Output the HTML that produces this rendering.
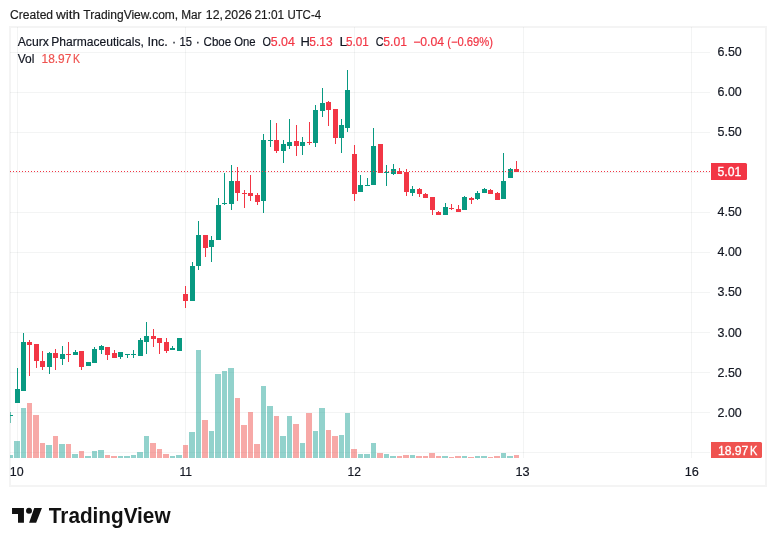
<!DOCTYPE html>
<html lang="en"><head><meta charset="utf-8"><title>Acurx Pharmaceuticals, Inc. chart</title>
<style>
html,body{margin:0;padding:0;background:#fff;}
body{width:776px;height:546px;position:relative;overflow:hidden;font-family:"Liberation Sans",Arial,sans-serif;}
</style></head><body>
<svg width="776" height="546" viewBox="0 0 776 546" style="position:absolute;left:0;top:0;display:block">
<rect x="0" y="0" width="776" height="546" fill="#ffffff"/>
<g shape-rendering="crispEdges">
<rect x="10" y="27" width="756" height="459" fill="none" stroke="#f4f4f4" stroke-width="2"/>
<rect x="10" y="52" width="700" height="1" fill="rgba(42,46,57,0.055)"/>
<rect x="10" y="92" width="700" height="1" fill="rgba(42,46,57,0.055)"/>
<rect x="10" y="132" width="700" height="1" fill="rgba(42,46,57,0.055)"/>
<rect x="10" y="172" width="700" height="1" fill="rgba(42,46,57,0.055)"/>
<rect x="10" y="212" width="700" height="1" fill="rgba(42,46,57,0.055)"/>
<rect x="10" y="252" width="700" height="1" fill="rgba(42,46,57,0.055)"/>
<rect x="10" y="292" width="700" height="1" fill="rgba(42,46,57,0.055)"/>
<rect x="10" y="332" width="700" height="1" fill="rgba(42,46,57,0.055)"/>
<rect x="10" y="372" width="700" height="1" fill="rgba(42,46,57,0.055)"/>
<rect x="10" y="412" width="700" height="1" fill="rgba(42,46,57,0.055)"/>
<rect x="10" y="452" width="700" height="1" fill="rgba(42,46,57,0.055)"/>
<rect x="17" y="27" width="1" height="431" fill="rgba(42,46,57,0.055)"/>
<rect x="185" y="27" width="1" height="431" fill="rgba(42,46,57,0.055)"/>
<rect x="354" y="27" width="1" height="431" fill="rgba(42,46,57,0.055)"/>
<rect x="523" y="27" width="1" height="431" fill="rgba(42,46,57,0.055)"/>
<rect x="691" y="27" width="1" height="431" fill="rgba(42,46,57,0.055)"/>
<rect x="10" y="455" width="3" height="3" fill="rgba(38,166,154,0.5)"/>
<rect x="14" y="441" width="6" height="17" fill="rgba(38,166,154,0.5)"/>
<rect x="21" y="408" width="5" height="50" fill="rgba(38,166,154,0.5)"/>
<rect x="27" y="403" width="5" height="55" fill="rgba(239,83,80,0.5)"/>
<rect x="33" y="415" width="6" height="43" fill="rgba(239,83,80,0.5)"/>
<rect x="40" y="443" width="5" height="15" fill="rgba(239,83,80,0.5)"/>
<rect x="46" y="445" width="6" height="13" fill="rgba(38,166,154,0.5)"/>
<rect x="53" y="436" width="5" height="22" fill="rgba(239,83,80,0.5)"/>
<rect x="59" y="444" width="6" height="14" fill="rgba(38,166,154,0.5)"/>
<rect x="66" y="444" width="5" height="14" fill="rgba(239,83,80,0.5)"/>
<rect x="72" y="454" width="6" height="4" fill="rgba(38,166,154,0.5)"/>
<rect x="79" y="451" width="5" height="7" fill="rgba(239,83,80,0.5)"/>
<rect x="85" y="456" width="6" height="2" fill="rgba(38,166,154,0.5)"/>
<rect x="92" y="451" width="5" height="7" fill="rgba(38,166,154,0.5)"/>
<rect x="98" y="450" width="6" height="8" fill="rgba(38,166,154,0.5)"/>
<rect x="105" y="455" width="5" height="3" fill="rgba(239,83,80,0.5)"/>
<rect x="111" y="456" width="6" height="2" fill="rgba(239,83,80,0.5)"/>
<rect x="118" y="456" width="5" height="2" fill="rgba(38,166,154,0.5)"/>
<rect x="124" y="456" width="6" height="2" fill="rgba(38,166,154,0.5)"/>
<rect x="131" y="455" width="5" height="3" fill="rgba(38,166,154,0.5)"/>
<rect x="137" y="452" width="6" height="6" fill="rgba(38,166,154,0.5)"/>
<rect x="144" y="436" width="5" height="22" fill="rgba(38,166,154,0.5)"/>
<rect x="150" y="443" width="6" height="15" fill="rgba(239,83,80,0.5)"/>
<rect x="157" y="449" width="5" height="9" fill="rgba(239,83,80,0.5)"/>
<rect x="163" y="454" width="6" height="4" fill="rgba(239,83,80,0.5)"/>
<rect x="170" y="456" width="5" height="2" fill="rgba(38,166,154,0.5)"/>
<rect x="176" y="455" width="6" height="3" fill="rgba(38,166,154,0.5)"/>
<rect x="183" y="445" width="5" height="13" fill="rgba(239,83,80,0.5)"/>
<rect x="189" y="432" width="6" height="26" fill="rgba(38,166,154,0.5)"/>
<rect x="196" y="350" width="5" height="108" fill="rgba(38,166,154,0.5)"/>
<rect x="202" y="420" width="6" height="38" fill="rgba(239,83,80,0.5)"/>
<rect x="209" y="431" width="5" height="27" fill="rgba(38,166,154,0.5)"/>
<rect x="215" y="374" width="6" height="84" fill="rgba(38,166,154,0.5)"/>
<rect x="222" y="371" width="5" height="87" fill="rgba(38,166,154,0.5)"/>
<rect x="228" y="368" width="6" height="90" fill="rgba(38,166,154,0.5)"/>
<rect x="235" y="398" width="5" height="60" fill="rgba(239,83,80,0.5)"/>
<rect x="241" y="425" width="6" height="33" fill="rgba(239,83,80,0.5)"/>
<rect x="248" y="412" width="5" height="46" fill="rgba(239,83,80,0.5)"/>
<rect x="254" y="444" width="6" height="14" fill="rgba(239,83,80,0.5)"/>
<rect x="261" y="386" width="5" height="72" fill="rgba(38,166,154,0.5)"/>
<rect x="267" y="406" width="6" height="52" fill="rgba(38,166,154,0.5)"/>
<rect x="274" y="416" width="5" height="42" fill="rgba(239,83,80,0.5)"/>
<rect x="280" y="436" width="6" height="22" fill="rgba(38,166,154,0.5)"/>
<rect x="287" y="416" width="5" height="42" fill="rgba(38,166,154,0.5)"/>
<rect x="293" y="424" width="6" height="34" fill="rgba(239,83,80,0.5)"/>
<rect x="300" y="443" width="5" height="15" fill="rgba(38,166,154,0.5)"/>
<rect x="306" y="413" width="6" height="45" fill="rgba(239,83,80,0.5)"/>
<rect x="313" y="431" width="5" height="27" fill="rgba(38,166,154,0.5)"/>
<rect x="319" y="408" width="6" height="50" fill="rgba(38,166,154,0.5)"/>
<rect x="326" y="430" width="5" height="28" fill="rgba(239,83,80,0.5)"/>
<rect x="332" y="436" width="6" height="22" fill="rgba(239,83,80,0.5)"/>
<rect x="339" y="435" width="5" height="23" fill="rgba(38,166,154,0.5)"/>
<rect x="345" y="413" width="5" height="45" fill="rgba(38,166,154,0.5)"/>
<rect x="351" y="449" width="6" height="9" fill="rgba(239,83,80,0.5)"/>
<rect x="358" y="454" width="5" height="4" fill="rgba(38,166,154,0.5)"/>
<rect x="364" y="454" width="6" height="4" fill="rgba(38,166,154,0.5)"/>
<rect x="371" y="443" width="5" height="15" fill="rgba(38,166,154,0.5)"/>
<rect x="377" y="453" width="6" height="5" fill="rgba(239,83,80,0.5)"/>
<rect x="384" y="454" width="5" height="4" fill="rgba(38,166,154,0.5)"/>
<rect x="390" y="456" width="6" height="2" fill="rgba(38,166,154,0.5)"/>
<rect x="397" y="456" width="5" height="2" fill="rgba(239,83,80,0.5)"/>
<rect x="403" y="455" width="6" height="3" fill="rgba(239,83,80,0.5)"/>
<rect x="410" y="455" width="5" height="3" fill="rgba(38,166,154,0.5)"/>
<rect x="416" y="456" width="6" height="2" fill="rgba(239,83,80,0.5)"/>
<rect x="423" y="456" width="5" height="2" fill="rgba(239,83,80,0.5)"/>
<rect x="429" y="453" width="6" height="5" fill="rgba(239,83,80,0.5)"/>
<rect x="436" y="456" width="5" height="2" fill="rgba(239,83,80,0.5)"/>
<rect x="442" y="456" width="6" height="2" fill="rgba(38,166,154,0.5)"/>
<rect x="449" y="457" width="5" height="1" fill="rgba(239,83,80,0.5)"/>
<rect x="455" y="456" width="6" height="2" fill="rgba(239,83,80,0.5)"/>
<rect x="462" y="456" width="5" height="2" fill="rgba(38,166,154,0.5)"/>
<rect x="468" y="457" width="6" height="1" fill="rgba(239,83,80,0.5)"/>
<rect x="475" y="456" width="5" height="2" fill="rgba(38,166,154,0.5)"/>
<rect x="481" y="456" width="6" height="2" fill="rgba(38,166,154,0.5)"/>
<rect x="488" y="457" width="5" height="1" fill="rgba(239,83,80,0.5)"/>
<rect x="494" y="456" width="6" height="2" fill="rgba(239,83,80,0.5)"/>
<rect x="501" y="453" width="5" height="5" fill="rgba(38,166,154,0.5)"/>
<rect x="507" y="456" width="6" height="2" fill="rgba(38,166,154,0.5)"/>
<rect x="514" y="455" width="5" height="3" fill="rgba(239,83,80,0.5)"/>
<rect x="10" y="412" width="1" height="11" fill="#089981" fill-opacity="0.55"/>
<rect x="10" y="415" width="3" height="1" fill="#089981"/>
<rect x="17" y="368" width="1" height="35" fill="#089981"/>
<rect x="15" y="389" width="5" height="14" fill="#089981"/>
<rect x="23" y="333" width="1" height="58" fill="#089981"/>
<rect x="21" y="342" width="5" height="49" fill="#089981"/>
<rect x="29" y="340" width="1" height="36" fill="#f23645"/>
<rect x="27" y="342" width="5" height="3" fill="#f23645"/>
<rect x="36" y="344" width="1" height="24" fill="#f23645"/>
<rect x="34" y="344" width="5" height="17" fill="#f23645"/>
<rect x="42" y="351" width="1" height="19" fill="#f23645"/>
<rect x="40" y="361" width="5" height="6" fill="#f23645"/>
<rect x="49" y="352" width="1" height="22" fill="#089981"/>
<rect x="47" y="353" width="5" height="14" fill="#089981"/>
<rect x="55" y="349" width="1" height="21" fill="#f23645"/>
<rect x="53" y="353" width="5" height="5" fill="#f23645"/>
<rect x="62" y="346" width="1" height="19" fill="#089981"/>
<rect x="60" y="354" width="5" height="5" fill="#089981"/>
<rect x="68" y="342" width="1" height="20" fill="#f23645"/>
<rect x="66" y="354" width="5" height="1" fill="#f23645"/>
<rect x="75" y="350" width="1" height="5" fill="#089981"/>
<rect x="73" y="352" width="5" height="3" fill="#089981"/>
<rect x="81" y="351" width="1" height="19" fill="#f23645"/>
<rect x="79" y="351" width="5" height="16" fill="#f23645"/>
<rect x="88" y="362" width="1" height="4" fill="#089981"/>
<rect x="86" y="362" width="5" height="4" fill="#089981"/>
<rect x="94" y="347" width="1" height="16" fill="#089981"/>
<rect x="92" y="349" width="5" height="14" fill="#089981"/>
<rect x="101" y="345" width="1" height="9" fill="#089981"/>
<rect x="99" y="346" width="5" height="4" fill="#089981"/>
<rect x="107" y="347" width="1" height="13" fill="#f23645"/>
<rect x="105" y="347" width="5" height="8" fill="#f23645"/>
<rect x="114" y="350" width="1" height="8" fill="#f23645"/>
<rect x="112" y="353" width="5" height="5" fill="#f23645"/>
<rect x="120" y="352" width="1" height="7" fill="#089981"/>
<rect x="118" y="352" width="5" height="5" fill="#089981"/>
<rect x="127" y="354" width="1" height="4" fill="#089981"/>
<rect x="125" y="354" width="5" height="1" fill="#089981"/>
<rect x="133" y="350" width="1" height="8" fill="#089981"/>
<rect x="131" y="354" width="5" height="1" fill="#089981"/>
<rect x="140" y="338" width="1" height="18" fill="#089981"/>
<rect x="138" y="340" width="5" height="16" fill="#089981"/>
<rect x="146" y="322" width="1" height="32" fill="#089981"/>
<rect x="144" y="336" width="5" height="6" fill="#089981"/>
<rect x="153" y="329" width="1" height="18" fill="#f23645"/>
<rect x="151" y="336" width="5" height="3" fill="#f23645"/>
<rect x="159" y="338" width="1" height="16" fill="#f23645"/>
<rect x="157" y="338" width="5" height="5" fill="#f23645"/>
<rect x="166" y="338" width="1" height="15" fill="#f23645"/>
<rect x="164" y="342" width="5" height="9" fill="#f23645"/>
<rect x="172" y="346" width="1" height="4" fill="#089981"/>
<rect x="170" y="348" width="5" height="2" fill="#089981"/>
<rect x="179" y="338" width="1" height="13" fill="#089981"/>
<rect x="177" y="338" width="5" height="13" fill="#089981"/>
<rect x="185" y="286" width="1" height="22" fill="#f23645"/>
<rect x="183" y="294" width="5" height="7" fill="#f23645"/>
<rect x="192" y="262" width="1" height="39" fill="#089981"/>
<rect x="190" y="266" width="5" height="35" fill="#089981"/>
<rect x="198" y="221" width="1" height="49" fill="#089981"/>
<rect x="196" y="235" width="5" height="31" fill="#089981"/>
<rect x="205" y="235" width="1" height="22" fill="#f23645"/>
<rect x="203" y="235" width="5" height="13" fill="#f23645"/>
<rect x="211" y="236" width="1" height="26" fill="#089981"/>
<rect x="209" y="240" width="5" height="7" fill="#089981"/>
<rect x="218" y="198" width="1" height="42" fill="#089981"/>
<rect x="216" y="205" width="5" height="35" fill="#089981"/>
<rect x="224" y="173" width="1" height="32" fill="#089981"/>
<rect x="222" y="203" width="5" height="1" fill="#089981"/>
<rect x="231" y="165" width="1" height="45" fill="#089981"/>
<rect x="229" y="181" width="5" height="23" fill="#089981"/>
<rect x="237" y="167" width="1" height="34" fill="#f23645"/>
<rect x="235" y="181" width="5" height="12" fill="#f23645"/>
<rect x="244" y="190" width="1" height="18" fill="#f23645"/>
<rect x="242" y="193" width="5" height="1" fill="#f23645"/>
<rect x="250" y="175" width="1" height="26" fill="#f23645"/>
<rect x="248" y="193" width="5" height="3" fill="#f23645"/>
<rect x="257" y="193" width="1" height="12" fill="#f23645"/>
<rect x="255" y="195" width="5" height="7" fill="#f23645"/>
<rect x="263" y="134" width="1" height="79" fill="#089981"/>
<rect x="261" y="140" width="5" height="61" fill="#089981"/>
<rect x="270" y="120" width="1" height="27" fill="#089981"/>
<rect x="268" y="140" width="5" height="1" fill="#089981"/>
<rect x="276" y="123" width="1" height="30" fill="#f23645"/>
<rect x="274" y="140" width="5" height="11" fill="#f23645"/>
<rect x="283" y="140" width="1" height="23" fill="#089981"/>
<rect x="281" y="144" width="5" height="7" fill="#089981"/>
<rect x="289" y="119" width="1" height="30" fill="#089981"/>
<rect x="287" y="142" width="5" height="4" fill="#089981"/>
<rect x="296" y="125" width="1" height="31" fill="#f23645"/>
<rect x="294" y="141" width="5" height="5" fill="#f23645"/>
<rect x="302" y="137" width="1" height="18" fill="#089981"/>
<rect x="300" y="142" width="5" height="4" fill="#089981"/>
<rect x="309" y="122" width="1" height="23" fill="#f23645"/>
<rect x="307" y="142" width="5" height="1" fill="#f23645"/>
<rect x="315" y="105" width="1" height="42" fill="#089981"/>
<rect x="313" y="110" width="5" height="33" fill="#089981"/>
<rect x="322" y="88" width="1" height="29" fill="#089981"/>
<rect x="320" y="103" width="5" height="8" fill="#089981"/>
<rect x="328" y="101" width="1" height="25" fill="#f23645"/>
<rect x="326" y="102" width="5" height="8" fill="#f23645"/>
<rect x="335" y="109" width="1" height="35" fill="#f23645"/>
<rect x="333" y="109" width="5" height="29" fill="#f23645"/>
<rect x="341" y="119" width="1" height="34" fill="#089981"/>
<rect x="339" y="125" width="5" height="13" fill="#089981"/>
<rect x="347" y="70" width="1" height="62" fill="#089981"/>
<rect x="345" y="90" width="5" height="38" fill="#089981"/>
<rect x="354" y="145" width="1" height="56" fill="#f23645"/>
<rect x="352" y="154" width="5" height="40" fill="#f23645"/>
<rect x="360" y="175" width="1" height="17" fill="#089981"/>
<rect x="358" y="185" width="5" height="7" fill="#089981"/>
<rect x="367" y="178" width="1" height="8" fill="#089981"/>
<rect x="365" y="185" width="5" height="1" fill="#089981"/>
<rect x="373" y="128" width="1" height="57" fill="#089981"/>
<rect x="371" y="146" width="5" height="39" fill="#089981"/>
<rect x="380" y="144" width="1" height="29" fill="#f23645"/>
<rect x="378" y="144" width="5" height="29" fill="#f23645"/>
<rect x="386" y="165" width="1" height="21" fill="#089981"/>
<rect x="384" y="172" width="5" height="1" fill="#089981"/>
<rect x="393" y="164" width="1" height="11" fill="#089981"/>
<rect x="391" y="169" width="5" height="5" fill="#089981"/>
<rect x="399" y="168" width="1" height="6" fill="#f23645"/>
<rect x="397" y="171" width="5" height="3" fill="#f23645"/>
<rect x="406" y="169" width="1" height="27" fill="#f23645"/>
<rect x="404" y="172" width="5" height="20" fill="#f23645"/>
<rect x="412" y="186" width="1" height="10" fill="#089981"/>
<rect x="410" y="189" width="5" height="4" fill="#089981"/>
<rect x="419" y="188" width="1" height="9" fill="#f23645"/>
<rect x="417" y="189" width="5" height="5" fill="#f23645"/>
<rect x="425" y="193" width="1" height="5" fill="#f23645"/>
<rect x="423" y="194" width="5" height="4" fill="#f23645"/>
<rect x="432" y="197" width="1" height="18" fill="#f23645"/>
<rect x="430" y="197" width="5" height="13" fill="#f23645"/>
<rect x="438" y="211" width="1" height="4" fill="#f23645"/>
<rect x="436" y="212" width="5" height="3" fill="#f23645"/>
<rect x="445" y="203" width="1" height="12" fill="#089981"/>
<rect x="443" y="207" width="5" height="8" fill="#089981"/>
<rect x="451" y="204" width="1" height="6" fill="#f23645"/>
<rect x="449" y="208" width="5" height="1" fill="#f23645"/>
<rect x="458" y="205" width="1" height="7" fill="#f23645"/>
<rect x="456" y="209" width="5" height="3" fill="#f23645"/>
<rect x="464" y="196" width="1" height="14" fill="#089981"/>
<rect x="462" y="197" width="5" height="13" fill="#089981"/>
<rect x="471" y="197" width="1" height="7" fill="#f23645"/>
<rect x="469" y="198" width="5" height="2" fill="#f23645"/>
<rect x="477" y="191" width="1" height="9" fill="#089981"/>
<rect x="475" y="193" width="5" height="6" fill="#089981"/>
<rect x="484" y="188" width="1" height="5" fill="#089981"/>
<rect x="482" y="189" width="5" height="4" fill="#089981"/>
<rect x="490" y="189" width="1" height="5" fill="#f23645"/>
<rect x="488" y="190" width="5" height="4" fill="#f23645"/>
<rect x="497" y="192" width="1" height="8" fill="#f23645"/>
<rect x="495" y="193" width="5" height="7" fill="#f23645"/>
<rect x="503" y="153" width="1" height="46" fill="#089981"/>
<rect x="501" y="181" width="5" height="18" fill="#089981"/>
<rect x="510" y="168" width="1" height="10" fill="#089981"/>
<rect x="508" y="169" width="5" height="9" fill="#089981"/>
<rect x="516" y="161" width="1" height="11" fill="#f23645"/>
<rect x="514" y="169" width="5" height="3" fill="#f23645"/>
<line x1="10" y1="171.5" x2="710" y2="171.5" stroke="#f23645" stroke-width="1" stroke-dasharray="1 2"/>
</g>
<path d="M711 163h34.5a1.5 1.5 0 0 1 1.5 1.5v14a1.5 1.5 0 0 1 -1.5 1.5h-34.5z" fill="#f23645"/>
<path d="M711 442h49.5a1.5 1.5 0 0 1 1.5 1.5v13a1.5 1.5 0 0 1 -1.5 1.5h-49.5z" fill="#ef5350"/>
<g font-family="'Liberation Sans', Arial, sans-serif" font-size="12" fill="#131722">
<text x="717.5" y="56" textLength="24.26" lengthAdjust="spacingAndGlyphs" stroke="#131722" stroke-width="0.18">6.50</text>
<text x="717.5" y="96" textLength="24.26" lengthAdjust="spacingAndGlyphs" stroke="#131722" stroke-width="0.18">6.00</text>
<text x="717.5" y="136" textLength="24.26" lengthAdjust="spacingAndGlyphs" stroke="#131722" stroke-width="0.18">5.50</text>
<text x="717.5" y="216" textLength="24.26" lengthAdjust="spacingAndGlyphs" stroke="#131722" stroke-width="0.18">4.50</text>
<text x="717.5" y="256" textLength="24.26" lengthAdjust="spacingAndGlyphs" stroke="#131722" stroke-width="0.18">4.00</text>
<text x="717.5" y="296" textLength="24.26" lengthAdjust="spacingAndGlyphs" stroke="#131722" stroke-width="0.18">3.50</text>
<text x="717.5" y="337" textLength="24.26" lengthAdjust="spacingAndGlyphs" stroke="#131722" stroke-width="0.18">3.00</text>
<text x="717.5" y="377" textLength="24.26" lengthAdjust="spacingAndGlyphs" stroke="#131722" stroke-width="0.18">2.50</text>
<text x="717.5" y="417" textLength="24.26" lengthAdjust="spacingAndGlyphs" stroke="#131722" stroke-width="0.18">2.00</text>
<text x="717.6" y="175.8" fill="#ffffff" stroke="#ffffff" stroke-width="0.3" textLength="23.7" lengthAdjust="spacingAndGlyphs">5.01</text>
<text x="717.9" y="454.7" fill="#ffffff" stroke="#ffffff" stroke-width="0.3"><tspan textLength="30.4" lengthAdjust="spacingAndGlyphs">18.97</tspan><tspan x="749.9" textLength="7.3" lengthAdjust="spacingAndGlyphs">K</tspan></text>
<text x="10.11" y="19" textLength="42.97" lengthAdjust="spacingAndGlyphs" fill="#1c1c1c" stroke="#1c1c1c" stroke-width="0.18">Created</text>
<text x="55.92" y="19" textLength="24.09" lengthAdjust="spacingAndGlyphs" fill="#1c1c1c" stroke="#1c1c1c" stroke-width="0.18">with</text>
<text x="83.34" y="19" textLength="94.89" lengthAdjust="spacingAndGlyphs" fill="#1c1c1c" stroke="#1c1c1c" stroke-width="0.18">TradingView.com,</text>
<text x="181.15" y="19" textLength="20.37" lengthAdjust="spacingAndGlyphs" fill="#1c1c1c" stroke="#1c1c1c" stroke-width="0.18">Mar</text>
<text x="205.82" y="19" textLength="17.09" lengthAdjust="spacingAndGlyphs" fill="#1c1c1c" stroke="#1c1c1c" stroke-width="0.18">12,</text>
<text x="224.55" y="19" textLength="27.31" lengthAdjust="spacingAndGlyphs" fill="#1c1c1c" stroke="#1c1c1c" stroke-width="0.18">2026</text>
<text x="254.47" y="19" textLength="29.77" lengthAdjust="spacingAndGlyphs" fill="#1c1c1c" stroke="#1c1c1c" stroke-width="0.18">21:01</text>
<text x="287.38" y="19" textLength="33.68" lengthAdjust="spacingAndGlyphs" fill="#1c1c1c" stroke="#1c1c1c" stroke-width="0.18">UTC-4</text>
<text x="17.73" y="46" textLength="31.22" lengthAdjust="spacingAndGlyphs" fill="#131722" stroke="#131722" stroke-width="0.18">Acurx</text>
<text x="51.24" y="46" textLength="92.54" lengthAdjust="spacingAndGlyphs" fill="#131722" stroke="#131722" stroke-width="0.18">Pharmaceuticals,</text>
<text x="147.40" y="46" textLength="20.45" lengthAdjust="spacingAndGlyphs" fill="#131722" stroke="#131722" stroke-width="0.18">Inc.</text>
<text x="171.90" y="46" textLength="4.11" lengthAdjust="spacingAndGlyphs" fill="#131722" stroke="#131722" stroke-width="0.18">·</text>
<text x="179.48" y="46" textLength="12.45" lengthAdjust="spacingAndGlyphs" fill="#131722" stroke="#131722" stroke-width="0.18">15</text>
<text x="195.80" y="46" textLength="4.11" lengthAdjust="spacingAndGlyphs" fill="#131722" stroke="#131722" stroke-width="0.18">·</text>
<text x="203.60" y="46" textLength="27.55" lengthAdjust="spacingAndGlyphs" fill="#131722" stroke="#131722" stroke-width="0.18">Cboe</text>
<text x="234.13" y="46" textLength="21.42" lengthAdjust="spacingAndGlyphs" fill="#131722" stroke="#131722" stroke-width="0.18">One</text>
<text x="262.47" y="46" textLength="8.45" lengthAdjust="spacingAndGlyphs" fill="#131722" stroke="#131722" stroke-width="0.18">O</text>
<text x="270.77" y="46" textLength="24.12" lengthAdjust="spacingAndGlyphs" fill="#f23645" stroke="#f23645" stroke-width="0.18">5.04</text>
<text x="300.63" y="46" textLength="9.36" lengthAdjust="spacingAndGlyphs" fill="#131722" stroke="#131722" stroke-width="0.18">H</text>
<text x="309.30" y="46" textLength="23.33" lengthAdjust="spacingAndGlyphs" fill="#f23645" stroke="#f23645" stroke-width="0.18">5.13</text>
<text x="339.40" y="46" textLength="7.70" lengthAdjust="spacingAndGlyphs" fill="#131722" stroke="#131722" stroke-width="0.18">L</text>
<text x="346.03" y="46" textLength="22.74" lengthAdjust="spacingAndGlyphs" fill="#f23645" stroke="#f23645" stroke-width="0.18">5.01</text>
<text x="375.82" y="46" textLength="7.86" lengthAdjust="spacingAndGlyphs" fill="#131722" stroke="#131722" stroke-width="0.18">C</text>
<text x="383.30" y="46" textLength="23.70" lengthAdjust="spacingAndGlyphs" fill="#f23645" stroke="#f23645" stroke-width="0.18">5.01</text>
<text x="413.20" y="46" textLength="30.90" lengthAdjust="spacingAndGlyphs" fill="#f23645" stroke="#f23645" stroke-width="0.18">−0.04</text>
<text x="447.17" y="46" textLength="45.90" lengthAdjust="spacingAndGlyphs" fill="#f23645" stroke="#f23645" stroke-width="0.18">(−0.69%)</text>
<text x="17.71" y="63" textLength="16.63" lengthAdjust="spacingAndGlyphs" fill="#131722" stroke="#131722" stroke-width="0.18">Vol</text>
<text x="41.58" y="63" textLength="29.73" lengthAdjust="spacingAndGlyphs" fill="#ef5350" stroke="#ef5350" stroke-width="0.18">18.97</text>
<text x="73.06" y="63" textLength="7.02" lengthAdjust="spacingAndGlyphs" fill="#ef5350" stroke="#ef5350" stroke-width="0.18">K</text>
<text x="9.78" y="476" textLength="13.86" lengthAdjust="spacingAndGlyphs" fill="#131722" stroke="#131722" stroke-width="0.18">10</text>
<text x="179.41" y="476" textLength="12.57" lengthAdjust="spacingAndGlyphs" fill="#131722" stroke="#131722" stroke-width="0.18">11</text>
<text x="347.53" y="476" textLength="13.45" lengthAdjust="spacingAndGlyphs" fill="#131722" stroke="#131722" stroke-width="0.18">12</text>
<text x="515.56" y="476" textLength="14.15" lengthAdjust="spacingAndGlyphs" fill="#131722" stroke="#131722" stroke-width="0.18">13</text>
<text x="684.74" y="476" textLength="14.14" lengthAdjust="spacingAndGlyphs" fill="#131722" stroke="#131722" stroke-width="0.18">16</text>
</g>
<g fill="#121212"><path d="M12.03 507.97H23.94V522.8H18V513.9H12.03zM34.25 507.97H41.96L36.15 522.8H29.1z"/><circle cx="29" cy="510.85" r="3"/></g>
<text x="48.82" y="522.8" font-family="'Liberation Sans', Arial, sans-serif" font-size="22" font-weight="bold" fill="#121212" textLength="121.69" lengthAdjust="spacingAndGlyphs">TradingView</text>
</svg>
</body></html>
